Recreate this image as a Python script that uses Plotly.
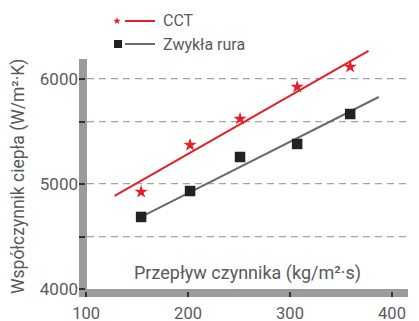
import math
import plotly.graph_objects as go

# Mass flux (kg/m²·s) and heat transfer coefficient (W/m²·K)
flux = [154, 202, 251, 307, 359]
htc_cct = [4921, 5368, 5616, 5921, 6111]
htc_tube = [4683, 4930, 5254, 5378, 5663]

# Trend lines (start and end points)
trend_cct_x = [128, 377]
trend_cct_y = [4883, 6264]
trend_tube_x = [154, 387]
trend_tube_y = [4683, 5825]

y_ticks = [4000, 4495, 5000, 5590, 6000]
y_tick_text = ["4000", "", "5000", "", "6000"]
y_grid = [4495, 5000, 5590, 6000]
x_ticks = [100, 200, 300, 400]

RED = "#e3202a"
GRAY_LINE = "#6a6a6a"
BAR = "#9a9b9d"
TEXT = "#5a5a5a"
FONT = "Roboto"

W, H = 419, 321
ML, MR, MT, MB = 79, 11, 45, 24
PW, PH = W - ML - MR, H - MT - MB
BAR_TOP = 59  # pixel row where the vertical axis bar starts


def px_x(p):
    """Horizontal page pixel -> paper fraction."""
    return (p - ML) / PW


def px_y(p):
    """Vertical page pixel (from top) -> paper fraction."""
    return (H - MB - p) / PH


def star_path(r_out, r_in):
    pts = []
    for i in range(10):
        r = r_out if i % 2 == 0 else r_in
        a = math.pi / 2 + i * math.pi / 5
        pts.append((r * math.cos(a), r * math.sin(a)))
    return "M " + " L ".join(f"{x:.2f},{y:.2f}" for x, y in pts) + " Z"


fig = go.Figure()

fig.add_trace(go.Scatter(x=trend_cct_x, y=trend_cct_y, mode="lines",
                         line=dict(color=RED, width=2), showlegend=False))
fig.add_trace(go.Scatter(x=trend_tube_x, y=trend_tube_y, mode="lines",
                         line=dict(color=GRAY_LINE, width=2), showlegend=False))
fig.add_trace(go.Scatter(x=flux, y=htc_cct, mode="markers",
                         marker=dict(symbol="star", size=10, color=RED),
                         showlegend=False))
fig.add_trace(go.Scatter(x=flux, y=htc_tube, mode="markers",
                         marker=dict(symbol="square", size=10.5, color="#222222"),
                         showlegend=False))

# Dashed horizontal grid lines
for gy in y_grid:
    fig.add_shape(type="line", xref="paper", yref="y", x0=8 / PW, x1=1, y0=gy, y1=gy,
                  line=dict(color="#a4a4a4", width=1.2, dash="7px,5px"), layer="below")

# Legend drawn with shapes and annotations
fig.add_shape(type="line", xref="paper", yref="paper", x0=px_x(125), x1=px_x(155),
              y0=px_y(21), y1=px_y(21), line=dict(color=RED, width=2))
fig.add_shape(type="path", xref="paper", yref="paper", xsizemode="pixel", ysizemode="pixel",
              xanchor=px_x(117), yanchor=px_y(21), path=star_path(3.8, 1.6),
              fillcolor=RED, line_width=0)
fig.add_annotation(xref="paper", yref="paper", x=px_x(161), y=px_y(21), text="CCT",
                   showarrow=False, xanchor="left", yanchor="middle",
                   font=dict(family=FONT, size=16, color=TEXT))

fig.add_shape(type="line", xref="paper", yref="paper", x0=px_x(125), x1=px_x(155),
              y0=px_y(44), y1=px_y(44), line=dict(color=GRAY_LINE, width=2))
fig.add_shape(type="rect", xref="paper", yref="paper", xsizemode="pixel", ysizemode="pixel",
              xanchor=px_x(118), yanchor=px_y(44), x0=-4, x1=4, y0=-4, y1=4,
              fillcolor="#222222", line_width=0)
fig.add_annotation(xref="paper", yref="paper", x=px_x(161), y=px_y(44), text="Zwykła rura",
                   showarrow=False, xanchor="left", yanchor="middle",
                   font=dict(family=FONT, size=16, color=TEXT))

# Thick gray axis bars
fig.add_shape(type="rect", xref="paper", yref="paper", x0=0, x1=8 / PW,
              y0=0, y1=px_y(BAR_TOP), fillcolor=BAR, line_width=0, layer="between")
fig.add_shape(type="rect", xref="paper", yref="paper", x0=0, x1=1,
              y0=0, y1=8 / PH, fillcolor=BAR, line_width=0, layer="between")

fig.add_annotation(xref="paper", yref="paper", x=px_x(247), y=px_y(273),
                   text="Przepływ czynnika (kg/m²·s)",
                   showarrow=False, xanchor="center", yanchor="middle",
                   font=dict(family=FONT, size=18, color=TEXT))
fig.add_annotation(xref="paper", yref="paper", x=px_x(18), y=px_y(177),
                   text="Współczynnik ciepła (W/m²·K)", textangle=-90, showarrow=False,
                   xanchor="center", yanchor="middle",
                   font=dict(family=FONT, size=17.5, color=TEXT))

fig.update_layout(
    width=W, height=H,
    margin=dict(l=ML, r=MR, t=MT, b=MB, autoexpand=False),
    paper_bgcolor="white", plot_bgcolor="white",
    font=dict(family=FONT, size=16, color=TEXT),
    showlegend=False,
    xaxis=dict(range=[93.1, 415.7], tickvals=x_ticks, ticks="inside", ticklen=5,
               tickcolor="#333333", tickwidth=1.5, showgrid=False, zeroline=False,
               showline=False, automargin=False, ticklabelstandoff=4,
               tickfont=dict(size=16.5, color=TEXT)),
    yaxis=dict(range=[3921, 6320], tickvals=y_ticks, ticktext=y_tick_text,
               ticks="inside", ticklen=6, tickcolor="#333333", tickwidth=1.5,
               showgrid=False, zeroline=False, showline=False, automargin=False,
               tickfont=dict(size=17, color=TEXT)),
)

fig.write_html("out.html")
